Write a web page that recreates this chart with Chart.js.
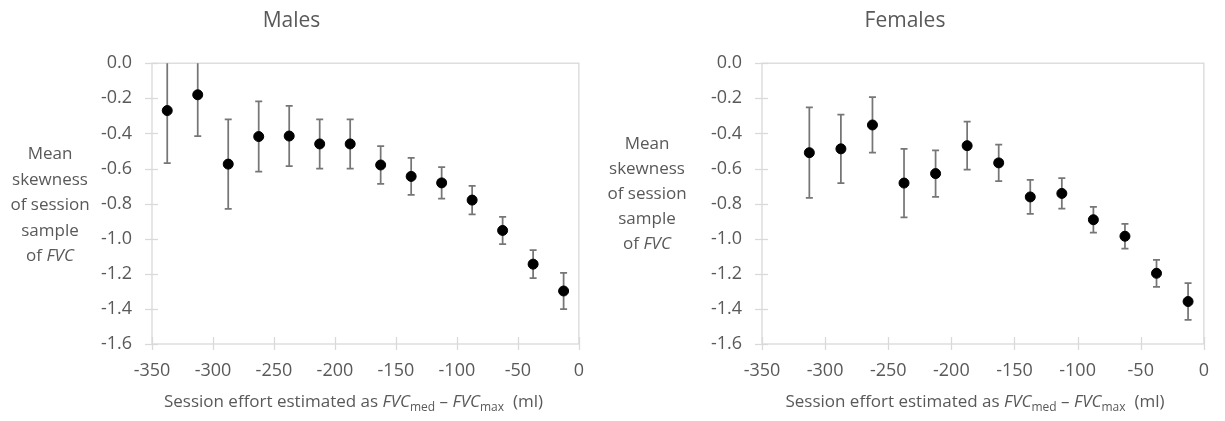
<!DOCTYPE html>
<html>
<head>
<meta charset="utf-8">
<script src="https://cdn.jsdelivr.net/npm/chart.js@4/dist/chart.umd.min.js"></script>
<style>
	html, body { margin: 0; padding: 0; background: #fff; }
	#wrap { position: relative; width: 1225px; height: 421px; }
	canvas { position: absolute; top: 0; }
	#males { left: 0; }
	#females { left: 600px; }
</style>
</head>
<body>
<div id="wrap">
	<canvas id="males" width="600" height="421"></canvas>
	<canvas id="females" width="625" height="421"></canvas>
</div>
<script>
// data (bins of 25 ml)
const maleEffort = [-337.5, -312.5, -287.5, -262.5, -237.5, -212.5, -187.5, -162.5, -137.5, -112.5, -87.5, -62.5, -37.5, -12.5];
const maleSkew   = [-0.27, -0.18, -0.575, -0.418, -0.415, -0.46, -0.46, -0.58, -0.645, -0.682, -0.78, -0.953, -1.145, -1.298];
const maleErr    = [0.30, 0.235, 0.255, 0.20, 0.172, 0.14, 0.14, 0.108, 0.105, 0.09, 0.081, 0.078, 0.08, 0.103];

const femaleEffort = [-312.5, -287.5, -262.5, -237.5, -212.5, -187.5, -162.5, -137.5, -112.5, -87.5, -62.5, -37.5, -12.5];
const femaleSkew   = [-0.51, -0.488, -0.352, -0.683, -0.629, -0.47, -0.568, -0.762, -0.742, -0.892, -0.986, -1.197, -1.358];
const femaleErr    = [0.258, 0.195, 0.158, 0.195, 0.132, 0.137, 0.104, 0.097, 0.087, 0.073, 0.071, 0.077, 0.105];

const xTitleRuns = [['Session effort estimated as ', ''], ['FVC', 'i'], ['med', 'sub'], [' \u2013 ', ''], ['FVC', 'i'], ['max', 'sub'], ['  (ml)', '']];
const yTitleLines = [
	[['Mean', '']],
	[['skewness', '']],
	[['of session', '']],
	[['sample', '']],
	[['of ', ''], ['FVC', 'i']]
];

const FONT = "'Open Sans', sans-serif";
const TEXT = '#595959';
Chart.defaults.font.family = FONT;
Chart.defaults.color = TEXT;

function runFont(style, size) {
	if (style === 'i') return 'italic ' + size + 'px ' + FONT;
	if (style === 'sub') return Math.round(size * 0.72) + 'px ' + FONT;
	return size + 'px ' + FONT;
}

// draw a line of mixed text centred on cx
function drawRuns(ctx, runs, cx, baseY, size) {
	let total = 0;
	runs.forEach(function(r){ ctx.font = runFont(r[1], size); total += ctx.measureText(r[0]).width; });
	let x = cx - total / 2;
	ctx.textAlign = 'left';
	ctx.textBaseline = 'alphabetic';
	runs.forEach(function(r){
		ctx.font = runFont(r[1], size);
		ctx.fillText(r[0], x, r[1] === 'sub' ? baseY + 4 : baseY);
		x += ctx.measureText(r[0]).width;
	});
}

// frame, cross ticks, error bars and axis titles
const decor = {
	id: 'decor',
	beforeDatasetsDraw(chart, args, opts) {
		const ctx = chart.ctx;
		const a = chart.chartArea;
		const xs = chart.scales.x, ys = chart.scales.y;
		ctx.save();
		ctx.strokeStyle = '#d9d9d9';
		ctx.lineWidth = 1.3;
		ctx.strokeRect(a.left, a.top, a.right - a.left, a.bottom - a.top);
		ys.ticks.forEach(function(t){
			const py = Math.round(ys.getPixelForValue(t.value)) + 0.5;
			ctx.beginPath(); ctx.moveTo(a.left - 7, py); ctx.lineTo(a.left + 6, py); ctx.stroke();
		});
		xs.ticks.forEach(function(t){
			const px = Math.round(xs.getPixelForValue(t.value)) + 0.5;
			ctx.beginPath(); ctx.moveTo(px, a.bottom - 7); ctx.lineTo(px, a.bottom + 6); ctx.stroke();
		});
		// error bars
		ctx.beginPath();
		ctx.rect(a.left, a.top, a.right - a.left, a.bottom - a.top);
		ctx.clip();
		ctx.strokeStyle = '#767676';
		ctx.lineWidth = 1.75;
		const pts = chart.data.datasets[0].data;
		pts.forEach(function(p, i){
			const px = xs.getPixelForValue(p.x);
			const hi = ys.getPixelForValue(p.y + opts.err[i]);
			const lo = ys.getPixelForValue(p.y - opts.err[i]);
			ctx.beginPath();
			ctx.moveTo(px, hi); ctx.lineTo(px, lo);
			ctx.moveTo(px - 3.5, hi); ctx.lineTo(px + 3.5, hi);
			ctx.moveTo(px - 3.5, lo); ctx.lineTo(px + 3.5, lo);
			ctx.stroke();
		});
		ctx.restore();
	},
	afterDraw(chart, args, opts) {
		const ctx = chart.ctx;
		const a = chart.chartArea;
		ctx.save();
		ctx.fillStyle = TEXT;
		drawRuns(ctx, xTitleRuns, (a.left + a.right) / 2 + opts.xTitleShift, a.bottom + 63, 17);
		yTitleLines.forEach(function(line, i){
			drawRuns(ctx, line, opts.yTitleX, opts.yTitleTop + i * opts.yTitleGap, 17);
		});
		ctx.restore();
	}
};

function makeChart(id, title, xs, ys, errs, axisWidth, padRight, titleOpts) {
	return new Chart(document.getElementById(id), {
		type: 'scatter',
		data: {
			datasets: [{
				data: xs.map(function(x, i){ return { x: x, y: ys[i] }; }),
				backgroundColor: '#000',
				borderColor: '#000',
				pointRadius: 5,
				pointHoverRadius: 5
			}]
		},
		options: {
			responsive: false,
			animation: false,
			devicePixelRatio: 1,
			layout: { padding: { left: 0, right: padRight, top: 0, bottom: 0 } },
			plugins: {
				legend: { display: false },
				tooltip: { enabled: false },
				title: {
					display: true,
					text: title,
					color: TEXT,
					font: { size: 21, weight: 'normal' },
					padding: { top: 8, bottom: 30 }
				},
				decor: Object.assign({ err: errs }, titleOpts)
			},
			scales: {
				x: {
					type: 'linear',
					min: -350, max: 0,
					grid: { display: false, drawTicks: false },
					border: { display: false },
					ticks: { stepSize: 50, padding: 16, font: { size: 18 }, color: TEXT,
						callback: function(v){ return String(v); } },
					afterFit: function(s){ s.height = 77; }
				},
				y: {
					min: -1.6, max: 0,
					grid: { display: false, drawTicks: false },
					border: { display: false },
					ticks: { stepSize: 0.2, padding: 20, font: { size: 18 }, color: TEXT,
						callback: function(v){ return v.toFixed(1); } },
					afterFit: function(s){ s.width = axisWidth; }
				}
			}
		},
		plugins: [decor]
	});
}

makeChart('males', 'Males', maleEffort, maleSkew, maleErr, 152, 17,
	{ xTitleShift: -12, yTitleX: 50, yTitleTop: 159, yTitleGap: 25.5 });
makeChart('females', 'Females', femaleEffort, femaleSkew, femaleErr, 162, 15,
	{ xTitleShift: -8, yTitleX: 47, yTitleTop: 149, yTitleGap: 25 });
</script>
</body>
</html>
